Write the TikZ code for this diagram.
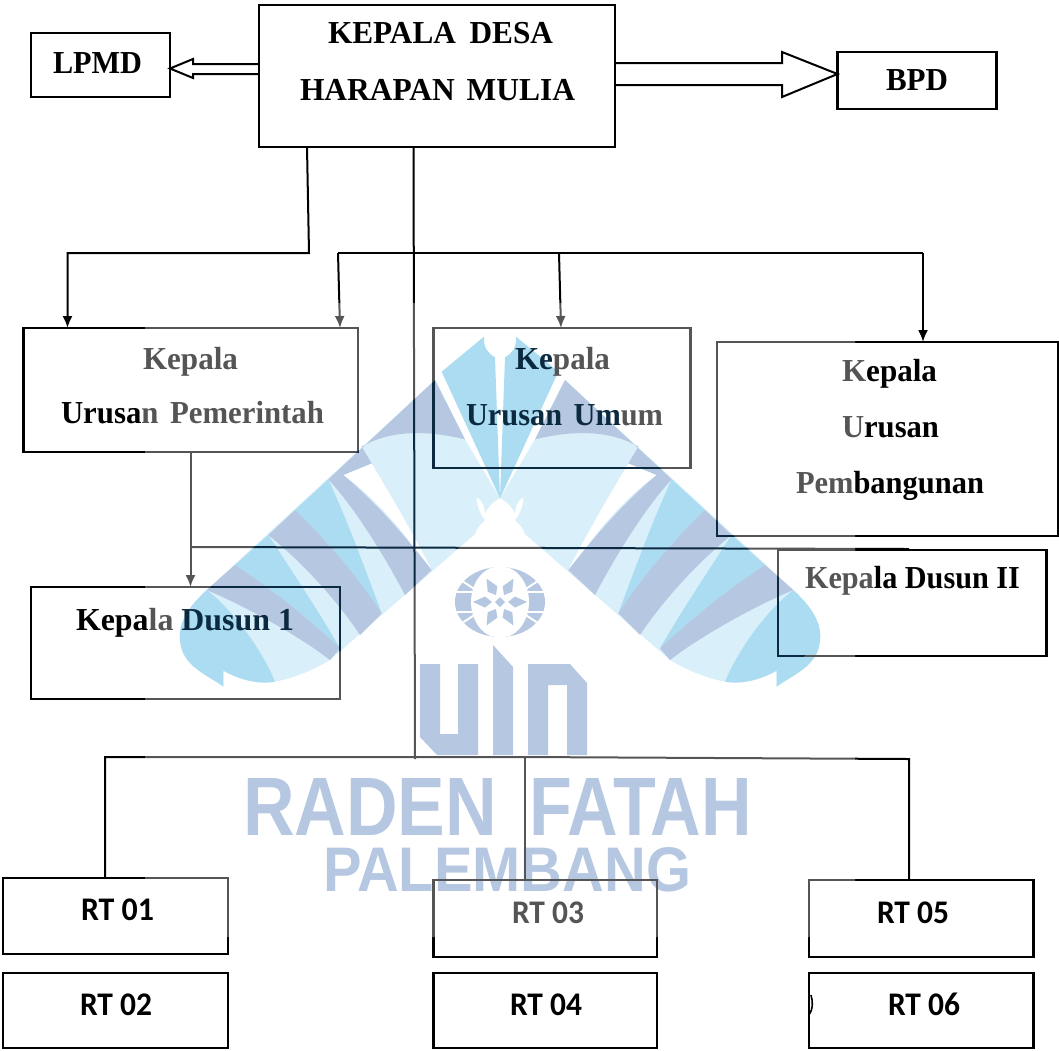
\documentclass[tikz,border=0pt]{standalone}
\usepackage{fontspec}
\setmainfont{Liberation Serif}
\newfontfamily\rtfont{Carlito}
\newfontfamily\wmfont{Liberation Sans}
\usetikzlibrary{arrows.meta}
\definecolor{wmslate}{HTML}{B5C7E1}
\definecolor{wmblue}{HTML}{ABDCF1}
\definecolor{wmlight}{HTML}{D9EFF9}
\definecolor{inkgray}{HTML}{555555}
\definecolor{inknavy}{HTML}{0B2A40}
\colorlet{ink}{black}
\tikzset{
  boxnode/.style={draw=ink,line width=2.4pt,inner sep=0pt,outer sep=0pt,anchor=north west},
  wire/.style={draw=ink,line width=2pt},
  tipwire/.style={wire,-{Latex[length=12pt,width=10pt]}},
  hollow/.style={draw=ink,line width=2pt,line join=miter},
  lab/.style={anchor=base west,inner sep=0pt,outer sep=0pt,font=\fontsize{32}{32}\selectfont\bfseries},
  rtlab/.style={anchor=base west,inner sep=0pt,outer sep=0pt,font=\fontsize{33}{33}\selectfont\rtfont\bfseries},
  wmtext/.style={inner sep=0pt,outer sep=0pt,text=wmslate,font=\wmfont\bfseries\fontsize{60}{60}\selectfont}
}
\newcommand{\fitw}[2]{\resizebox{#1pt}{\height}{#2}}
\newcommand{\fitwh}[3]{\resizebox{#1pt}{#2pt}{#3}}
\newcommand{\cg}[1]{{\color{inkgray}#1}}
\newcommand{\cn}[1]{{\color{inknavy}#1}}
\newcommand{\wmarm}{%
  \fill[wmlight] (825,180) -- (140,810) .. controls (75,870) and (40,930) .. (70,1000)
    .. controls (95,1050) and (150,1070) .. (190,1100) -- (190,1052)
    .. controls (230,1075) and (290,1095) .. (345,1085)
    .. controls (400,1075) and (460,1050) .. (510,1020) -- (1020,577) -- (1020,535) -- (915,358) -- cycle;
  \fill[white] (635,430) .. controls (700,540) and (770,660) .. (815,750) -- (790,725)
    .. controls (730,630) and (640,530) .. (550,465) -- cycle;
  \fill[wmslate] (825,180) -- (915,358) .. controls (800,330) and (690,330) .. (605,380)
    -- (635,430) -- (550,465) -- (505,478) -- cycle;
  \fill[wmslate] (550,465) -- (505,478) .. controls (590,570) and (680,720) .. (735,825)
    -- (815,750) .. controls (730,640) and (640,540) .. (550,465) -- cycle;
  \fill[wmblue] (505,478) -- (405,570) .. controls (500,660) and (600,780) .. (665,880)
    .. controls (620,760) and (570,620) .. (505,478) -- cycle;
  \fill[wmslate] (405,570) -- (325,645) .. controls (430,730) and (530,840) .. (600,945)
    -- (665,880) .. controls (600,780) and (500,660) .. (405,570) -- cycle;
  \fill[wmblue] (325,645) -- (225,735) .. controls (340,810) and (450,900) .. (540,985)
    .. controls (480,880) and (400,760) .. (325,645) -- cycle;
  \fill[wmslate] (225,735) -- (140,810) .. controls (260,860) and (420,950) .. (510,1020)
    -- (540,985) .. controls (450,900) and (340,810) .. (225,735) -- cycle;
  \fill[wmblue] (140,810) .. controls (75,870) and (40,930) .. (70,1000)
    .. controls (95,1050) and (150,1070) .. (190,1100) -- (190,1052)
    .. controls (230,1075) and (290,1095) .. (345,1085)
    .. controls (310,1000) and (230,880) .. (140,810) -- cycle;
  \fill[wmblue] (845,155) -- (972,50) .. controls (970,85) and (985,100) .. (1005,112)
    -- (1020,535) -- cycle;
  \fill[white] (1020,535) .. controls (1000,545) and (985,560) .. (975,580)
    .. controls (975,560) and (965,540) .. (950,532) .. controls (950,560) and (965,590) .. (975,600)
    .. controls (955,620) and (945,635) .. (945,650) -- (1020,650) -- cycle;
}
\newcommand{\wmsil}{(435,380) -- (207,590) -- (178,637) -- (223,687) -- (275,682) -- (330,660) -- (500,512)
  -- (670,660) -- (725,682) -- (777,687) -- (822,637) -- (793,590) -- (565,380) -- (535,439)
  -- (513,337) -- (487,337) -- (465,439) -- cycle}
\newcommand{\inklines}{%
  \node[boxnode,minimum width=356pt,minimum height=142pt] (kades) at (259,5) {};
  \node[boxnode,minimum width=139pt,minimum height=64pt] (lpmd) at (31,33) {};
  \node[boxnode,minimum width=159pt,minimum height=57pt] (bpd) at (837.5,52) {};
  \node[boxnode,minimum width=334.5pt,minimum height=124pt] (pem) at (23.5,328) {};
  \node[boxnode,minimum width=257pt,minimum height=140pt] (umum) at (433.5,328) {};
  \node[boxnode,minimum width=341pt,minimum height=194pt] (bang) at (717,342) {};
  \node[boxnode,minimum width=309pt,minimum height=112pt] (dus1) at (31,587) {};
  \node[boxnode,minimum width=268.5pt,minimum height=106pt] (dus2) at (778,550) {};
  \node[boxnode,minimum width=225pt,minimum height=76pt] (rt1) at (3,878) {};
  \node[boxnode,minimum width=225pt,minimum height=75pt] (rt2) at (3,973) {};
  \node[boxnode,minimum width=223.5pt,minimum height=77pt] (rt3) at (433.5,880) {};
  \node[boxnode,minimum width=223.5pt,minimum height=75pt] (rt4) at (433.5,973) {};
  \node[boxnode,minimum width=224.5pt,minimum height=77pt] (rt5) at (809,880) {};
  \node[boxnode,minimum width=224.5pt,minimum height=75pt] (rt6) at (809,973) {};
  \draw[hollow] (kades.west |- 0,64) -- (193,64) -- (193,59) -- (lpmd.east |- 0,68.5) -- (193,78) -- (193,74) -- (kades.west |- 0,74);
  \draw[hollow] (kades.east |- 0,63) -- (782,63) -- (782,52) -- (bpd.west |- 0,74) -- (782,97) -- (782,85) -- (kades.east |- 0,85);
  \coordinate (busA) at (309,253);
  \coordinate (busB) at (338,253);
  \coordinate (busC) at (559,253);
  \coordinate (busD) at (923,253);
  \draw[tipwire] (307,0 |- kades.south) -- (busA) -- (67.5,253) -- (67.5,0 |- pem.north);
  \draw[wire] (busB) -- (busD);
  \draw[tipwire] (busB) -- (340,0 |- pem.north);
  \draw[tipwire] (busC) -- (561,0 |- umum.north);
  \draw[tipwire] (busD) -- (923,0 |- bang.north);
  \coordinate (busE) at (415,759);
  \draw[wire] (413.5,0 |- kades.south) -- (busE);
  \coordinate (busF) at (190.5,547);
  \draw[tipwire] (190.5,0 |- pem.south) -- (190.5,0 |- dus1.north);
  \draw[wire] (busF) -- (909,549);
  \coordinate (busG) at (525,757);
  \draw[wire] (105,0 |- rt1.north) -- (105,757) -- (busG) -- (909,759) -- (909,0 |- rt5.north);
  \draw[wire] (busG) -- (525,0 |- rt3.north);
}
\begin{document}
\begin{tikzpicture}[x=1pt,y=-1pt]
\useasboundingbox (0,0) rectangle (1059,1050);
\begin{scope}[x=0.33333pt,y=-0.33333pt,shift={(160pt,-320pt)}]
  \wmarm
\end{scope}
\begin{scope}[x=-0.33333pt,y=-0.33333pt,shift={(840pt,-320pt)}]
  \wmarm
\end{scope}
\fill[white] (500,343) ellipse (15 and 11);
\fill[wmslate] (500,602) ellipse (45 and 35);
\begin{scope}
  \clip (500,602) ellipse (45 and 35);
  \draw[white,line width=2.2pt] (455,592) -- (472,592) (455,612) -- (472,612) (528,592) -- (545,592) (528,612) -- (545,612);
  \draw[white,line width=2pt] (458,578) .. controls (466,584) and (472,587) .. (474,589)
    (542,578) .. controls (534,584) and (528,587) .. (526,589)
    (458,626) .. controls (466,620) and (472,617) .. (474,615)
    (542,626) .. controls (534,620) and (528,617) .. (526,615);
  \fill[white] (500,602) ellipse (29 and 36);
\end{scope}
\foreach \a in {0,60,...,300}{
  \fill[wmslate,shift={(500,602)},rotate=\a] (8,0) -- (15,-5.5) -- (27,0) -- (15,5.5) -- cycle;
}
\fill[wmslate] (500,597) -- (505,602) -- (500,607) -- (495,602) -- cycle;
\fill[wmslate] (420,664) -- (440,664) -- (440,734) -- (458,734) -- (458,664) -- (478,664) -- (478,755) -- (437,755) -- (420,737) -- cycle;
\fill[wmslate] (493,645) -- (513,667) -- (513,755) -- (493,755) -- cycle;
\fill[wmslate] (528,664) -- (570,664) -- (587,683) -- (587,755) -- (567,755) -- (567,685) -- (548,685) -- (548,755) -- (528,755) -- cycle;
\node[wmtext,anchor=south west] (wmraden) at (243,835) {\fitwh{254}{57}{RADEN}};
\node[wmtext,anchor=south west] (wmfatah) at (529,835) {\fitwh{223}{57}{FATAH}};
\node[wmtext,anchor=south west] (wmpalembang) at (323,892) {\fitwh{368}{44}{PALEMBANG}};

\begin{scope}[even odd rule]
  \clip (0,0) rectangle (1059,1050) (145,303) rectangle (855,937);
  \colorlet{ink}{black}
  \inklines
\end{scope}
\begin{scope}[even odd rule]
  \clip (145,303) rectangle (855,937) \wmsil;
  \colorlet{ink}{inkgray}
  \inklines
\end{scope}
\begin{scope}
  \clip \wmsil;
  \colorlet{ink}{inknavy}
  \inklines
\end{scope}
\draw[black,line width=1.6pt] (811,995) .. controls (813,1002) and (813,1009) .. (809.5,1014);

\node[lab] (t1) at (328,43) {\fitw{225}{KEPALA\hspace{6pt} DESA}};
\node[lab] (t2) at (300,100.5) {\fitw{275}{HARAPAN\hspace{4pt} MULIA}};
\node[lab] (t3) at (53,73) {\fitw{89}{LPMD}};
\node[lab] (t4) at (886,90.5) {\fitw{62}{BPD}};
\node[lab] (t5) at (143,369) {\fitw{95}{\cg{Kepala}}};
\node[lab] (t6) at (61,423) {\fitw{263}{Urusa\cg{n\hspace{4pt} Pemerintah}}};
\node[lab] (t7) at (515,369) {\fitw{95}{\cn{Ke}\cg{pala}}};
\node[lab] (t8) at (466,425) {\fitw{197}{\cn{Urusan\hspace{4pt} Um}\cg{um}}};
\node[lab] (t9) at (842,381) {\fitw{95}{\cg{K}epala}};
\node[lab] (t10) at (842,437) {\fitw{97}{\cg{U}rusan}};
\node[lab] (t11) at (796,493) {\fitw{188}{\cg{Pem}bangunan}};
\node[lab] (t12) at (805,588) {\fitw{215}{\cg{Kepa}la Dusun II}};
\node[lab] (t13) at (76,630) {\fitw{218}{Kepa\cg{la} \cn{Dusun 1}}};
\node[rtlab] (r1) at (81,920) {\fitw{73}{RT 01}};
\node[rtlab] (r2) at (80,1015) {\fitw{72}{RT 02}};
\node[rtlab] (r3) at (512,923) {\fitw{72}{\cg{RT 03}}};
\node[rtlab] (r4) at (510,1015) {\fitw{72}{RT 04}};
\node[rtlab] (r5) at (877,923) {\fitw{72}{RT 05}};
\node[rtlab] (r6) at (888,1015) {\fitw{72}{RT 06}};
\end{tikzpicture}
\end{document}
